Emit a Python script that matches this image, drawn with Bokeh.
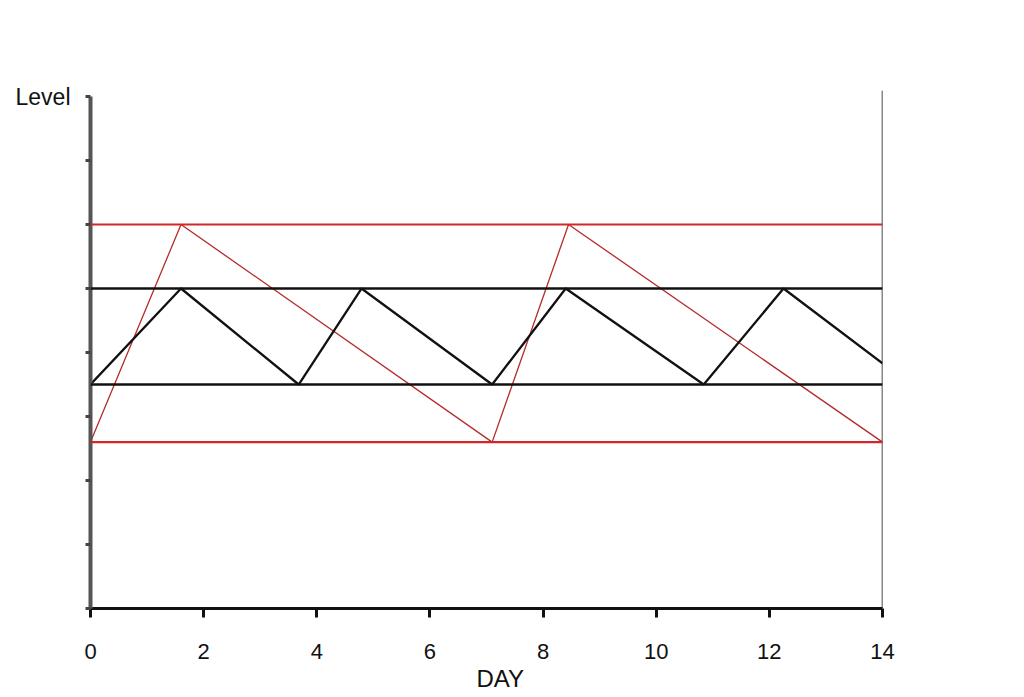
from bokeh.plotting import figure
from bokeh.models import Range1d, FixedTicker, Span, Title
from bokeh.embed import file_html
from bokeh.resources import INLINE

# ---- data ----
red_days = [0, 1.6, 7.1, 8.45, 14]
red_levels = [2.6, 6.0, 2.6, 6.0, 2.6]
black_days = [0, 1.6, 3.68, 4.79, 7.1, 8.4, 10.84, 12.25, 14]
black_levels = [3.5, 5.0, 3.5, 5.0, 3.5, 5.0, 3.5, 5.0, 3.83]
red_limits = [2.6, 6.0]
black_limits = [3.5, 5.0]
x_ticks = [0, 2, 4, 6, 8, 10, 12, 14]
y_ticks = [0, 1, 2, 3, 4, 5, 6, 7, 8]
x_title = "DAY"
y_title = "Level"

FONT = "Liberation Sans"

p = figure(width=1016, height=694, output_backend="svg", toolbar_location=None,
           x_range=Range1d(0, 14), y_range=Range1d(0, 8.094),
           min_border_left=90, min_border_right=134,
           min_border_top=90, min_border_bottom=86)
p.outline_line_color = None
p.xgrid.visible = False
p.ygrid.visible = False
p.background_fill_color = "white"
p.border_fill_color = "white"

# x axis
xa = p.xaxis[0]
xa.ticker = FixedTicker(ticks=x_ticks)
xa.bounds = (0, 14)
xa.axis_line_color = "#111111"
xa.axis_line_width = 3
xa.major_tick_line_color = "#111111"
xa.major_tick_line_width = 3
xa.major_tick_out = 9
xa.major_tick_in = 0
xa.minor_tick_line_color = None
xa.major_label_standoff = 26
xa.major_label_text_font = FONT
xa.major_label_text_font_size = "22px"
xa.major_label_text_color = "#111111"

# y axis (only the top tick carries the "Level" caption)
ya = p.yaxis[0]
ya.ticker = FixedTicker(ticks=y_ticks)
ya.bounds = (0, 8)
ya.axis_line_color = "#555555"
ya.axis_line_width = 4
ya.major_tick_line_color = "#444444"
ya.major_tick_line_width = 3
ya.major_tick_out = 5
ya.major_tick_in = 0
ya.minor_tick_line_color = None
ya.major_label_overrides = {t: "" for t in y_ticks[:-1]} | {y_ticks[-1]: y_title}
ya.major_label_standoff = 15
ya.major_label_text_font = FONT
ya.major_label_text_font_size = "23px"
ya.major_label_text_color = "#111111"

# x title below the axis
p.add_layout(Title(text=x_title, align="left", offset=386, standoff=3,
                   text_font=FONT, text_font_size="24px",
                   text_font_style="normal", text_color="#111111"), "below")

# right border line at day 14
p.add_layout(Span(location=x_ticks[-1], dimension="height",
                  line_color="#111111", line_width=1.5))

# limit bands
for lv in red_limits:
    p.add_layout(Span(location=lv, dimension="width",
                      line_color="#d42626", line_width=2.2))
for lv in black_limits:
    p.add_layout(Span(location=lv, dimension="width",
                      line_color="#111111", line_width=2.5))

# series
p.line(red_days, red_levels, line_color="#b72a2a", line_width=1.3)
p.line(black_days, black_levels, line_color="#111111", line_width=2.3)

open("out.html", "w").write(file_html(p, INLINE))
